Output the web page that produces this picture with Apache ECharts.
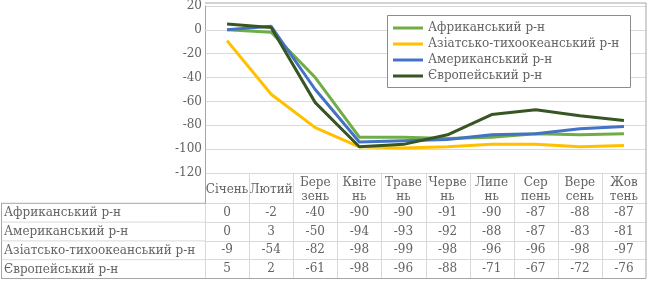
<!DOCTYPE html>
<html>
<head>
<meta charset="utf-8">
<script src="https://cdn.jsdelivr.net/npm/echarts@6/dist/echarts.min.js"></script>
<style>html,body{margin:0;padding:0;background:#fff}#c{width:650px;height:282px}</style>
</head>
<body>
<div id="c"></div>
<script>
const months = ['Січень','Лютий','Березень','Квітень','Травень','Червень','Липень','Серпень','Вересень','Жовтень'];
const headerLabels = ['Січень','Лютий','Бере\nзень','Квіте\nнь','Траве\nнь','Черве\nнь','Липе\nнь','Сер\nпень','Вере\nсень','Жов\nтень'];
const seriesNames = ['Африканський р-н','Американський р-н','Азіатсько-тихоокеанський р-н','Європейський р-н'];
const africa = [0,-2,-40,-90,-90,-91,-90,-87,-88,-87];
const america = [0,3,-50,-94,-93,-92,-88,-87,-83,-81];
const asia = [-9,-54,-82,-98,-99,-98,-96,-96,-98,-97];
const europe = [5,2,-61,-98,-96,-88,-71,-67,-72,-76];
const legendOrder = ['Африканський р-н','Азіатсько-тихоокеанський р-н','Американський р-н','Європейський р-н'];
const yTicks = {min:-120, max:20, interval:20};

const values = [africa, america, asia, europe];
const colors = ['#70AD47','#4472C4','#FFC000','#375623'];

const FONT = 'DejaVu Serif';
const TXT = '#636363';
const DARK = '#a6a6a6';
const LIGHT = '#d9d9d9';
const L = 205, R = 646, T = 3, B = 173;
const HEAD_B = 203.3, ROW_H = 18.8;
const TABLE_B = HEAD_B + ROW_H*4;

const chart = echarts.init(document.getElementById('c'), null, {renderer:'canvas'});

const xAxes = [{
  type:'category', data: months, boundaryGap:true, position:'bottom',
  axisLine:{show:true, lineStyle:{color:LIGHT}},
  axisTick:{show:false},
  axisLabel:{interval:0, margin:(HEAD_B-B)/2+2, verticalAlign:'middle', color:TXT, fontFamily:FONT, fontSize:12, lineHeight:14,
    formatter:(v,i)=>headerLabels[i]},
  splitLine:{show:false}
}];
values.forEach((arr,k)=>{
  xAxes.push({
    type:'category', data: arr.map(String), boundaryGap:true, position:'bottom',
    offset: (HEAD_B - B) + ROW_H*k,
    axisLine:{show:true, lineStyle:{color:LIGHT}},
    axisTick:{show:false},
    axisLabel:{interval:0, margin:ROW_H/2, verticalAlign:'middle', color:TXT, fontFamily:FONT, fontSize:12},
    splitLine:{show:false}
  });
});

const graphic = [];
function line(x1,y1,x2,y2,c){graphic.push({type:'line',silent:true,z:10,shape:{x1,y1,x2,y2},style:{stroke:c,lineWidth:1}});}
// column separators of the data table
const colW = (R - L) / months.length;
for(let i=1;i<months.length;i++){
  const x = Math.round(L + colW*i) + 0.5;
  line(x, B, x, TABLE_B, LIGHT);
}
line(L+0.5, HEAD_B, L+0.5, TABLE_B, LIGHT);
// frame
line(L, T, R, T, DARK);
line(R, T, R, TABLE_B, DARK);
line(L+0.5, B, L+0.5, HEAD_B, DARK);
line(1, HEAD_B, L+0.5, HEAD_B, DARK);
line(1.5, HEAD_B, 1.5, TABLE_B, DARK);
line(1, TABLE_B, R, TABLE_B, DARK);
for(let k=1;k<4;k++) line(1.5, HEAD_B+ROW_H*k, L, HEAD_B+ROW_H*k, LIGHT);
seriesNames.forEach((n,k)=>{
  graphic.push({type:'text', silent:true, x:4, y:HEAD_B+ROW_H*k+ROW_H/2+0.5,
    style:{text:n, fill:TXT, font:'12px "'+FONT+'"', verticalAlign:'middle', align:'left'}});
});
// legend frame
graphic.push({type:'rect', silent:true, z:1, shape:{x:387.5, y:15.5, width:243, height:72},
  style:{fill:'#fff', stroke:'#8c8c8c', lineWidth:1}});

chart.setOption({
  animation:false,
  backgroundColor:'#fff',
  grid:{left:L, right:650-R, top:T, bottom:282-B, containLabel:false},
  legend:{
    data: legendOrder, orient:'vertical', left:387, top:17, z:5,
    padding:[4,6,6,6], itemGap:2, itemWidth:30, itemHeight:3, icon:'rect',
    borderWidth:0,
    textStyle:{color:TXT, fontFamily:FONT, fontSize:12, lineHeight:14}
  },
  xAxis: xAxes,
  yAxis:{type:'value', min:yTicks.min, max:yTicks.max, interval:yTicks.interval,
    axisLine:{show:true, lineStyle:{color:DARK}}, axisTick:{show:false},
    axisLabel:{color:TXT, fontFamily:FONT, fontSize:12, margin:3},
    splitLine:{lineStyle:{color:LIGHT}}},
  graphic: graphic,
  series: seriesNames.map((n,k)=>({
    name:n, type:'line', data: values[k], xAxisIndex:0, showSymbol:false, symbol:'none',
    lineStyle:{width:3, color:colors[k]}, itemStyle:{color:colors[k]}
  }))
});
</script>
</body>
</html>
